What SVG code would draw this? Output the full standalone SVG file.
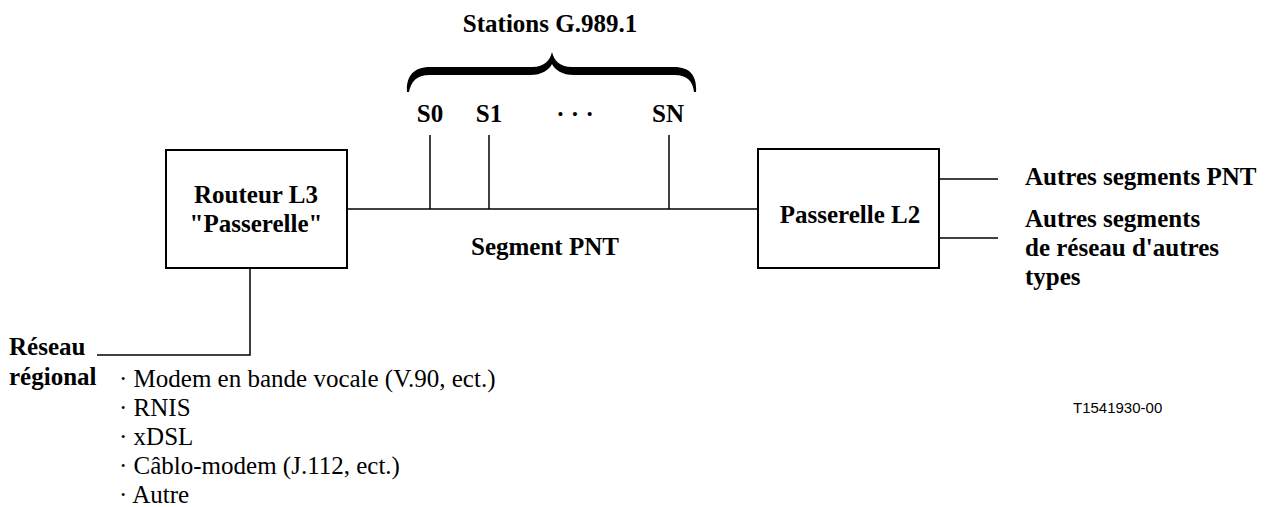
<svg xmlns="http://www.w3.org/2000/svg" width="1269" height="507" viewBox="0 0 1269 507">
<style>
.t{font-family:"Liberation Serif","Times New Roman",serif;font-size:25px;fill:#000}
.b{font-weight:bold}
.m{text-anchor:middle}
.ln{stroke:#000;stroke-width:1.5;fill:none}
.box{stroke:#000;stroke-width:2;fill:#fff}
.code{font-family:"Liberation Sans",Arial,sans-serif;font-size:15px;fill:#000}
</style>
<rect width="1269" height="507" fill="#fff"/>
<g id="connectors">
<line class="ln" x1="347" y1="209" x2="758" y2="209"/>
<line class="ln" x1="430" y1="135" x2="430" y2="209"/>
<line class="ln" x1="489" y1="135" x2="489" y2="209"/>
<line class="ln" x1="669" y1="135" x2="669" y2="209"/>
<polyline class="ln" points="250,268 250,355 97,355"/>
<line class="ln" x1="939" y1="179" x2="998" y2="179"/>
<line class="ln" x1="939" y1="238" x2="998" y2="238"/>
</g>
<g id="stations">
<text class="t b m" x="550" y="32">Stations G.989.1</text>
<path d="M407,92 C406,78 412,67 430,67 L532,67 C545,67 550,60 552,52 C554,60 559,67 572,67 L674,67 C692,67 697,78 696,92 L694,92 C693,82 688,75 674,75 L574,75 C562,75 555,70 552,64 C549,70 542,75 530,75 L430,75 C416,75 411,82 409,92 Z" fill="#000"/>
<text class="t b m" x="430" y="122">S0</text>
<text class="t b m" x="489" y="122">S1</text>
<text class="t b m" x="575" y="122">· · ·</text>
<text class="t b m" x="668" y="122">SN</text>
</g>
<g id="routeur">
<rect class="box" x="166" y="150" width="181" height="118"/>
<text class="t b m" x="256" y="203">Routeur L3</text>
<text class="t b m" x="256" y="232">"Passerelle"</text>
</g>
<g id="passerelle">
<rect class="box" x="758" y="149" width="181" height="119"/>
<text class="t b m" x="850" y="223">Passerelle L2</text>
</g>
<g id="segment">
<text class="t b m" x="545" y="255">Segment PNT</text>
</g>
<g id="autres">
<text class="t b" x="1025" y="185">Autres segments PNT</text>
<text class="t b" x="1025" y="227">Autres segments</text>
<text class="t b" x="1025" y="256">de réseau d'autres</text>
<text class="t b" x="1025" y="285">types</text>
</g>
<g id="reseau">
<text class="t b" x="9" y="355">Réseau</text>
<text class="t b" x="9" y="385">régional</text>
</g>
<g id="liste">
<text class="t" x="119" y="387">· Modem en bande vocale (V.90, ect.)</text>
<text class="t" x="119" y="416">· RNIS</text>
<text class="t" x="119" y="445">· xDSL</text>
<text class="t" x="119" y="474">· Câblo-modem (J.112, ect.)</text>
<text class="t" x="119" y="503">· Autre</text>
</g>
<text class="code" x="1073" y="413">T1541930-00</text>
</svg>
